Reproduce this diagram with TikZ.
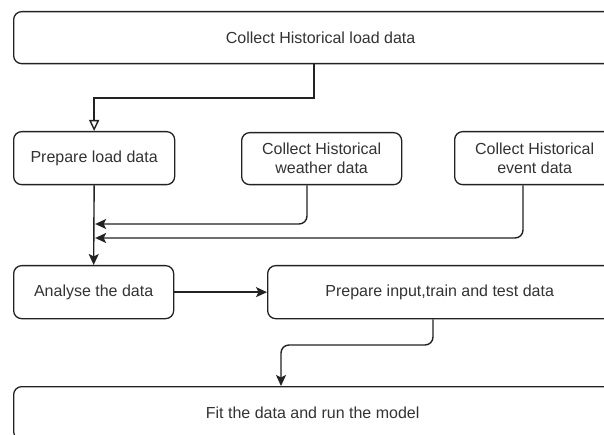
\documentclass[tikz,border=0pt]{standalone}
\usepackage{fontspec}
\setmainfont{Liberation Sans}
\usetikzlibrary{arrows.meta,calc}
\definecolor{ln}{HTML}{222222}
\definecolor{tx}{HTML}{333333}
\begin{document}
\begin{tikzpicture}[x=1pt,y=-1pt,
  box/.style={draw=ln,line width=1.3pt,rounded corners=8pt,fill=white,
    anchor=north west,inner sep=0pt,align=center,text=tx,
    font=\fontsize{16}{19}\selectfont},
  conn/.style={draw=ln,line width=1.4pt,rounded corners=8pt},
  solidarrow/.style={conn,-{Stealth[length=11pt,width=10pt,inset=2.5pt]}},
  openarrow/.style={conn,sharp corners,-{Triangle[open,length=11pt,width=10pt,fill=white]}}]
\useasboundingbox (0,0) rectangle (604,435);
\clip (0,0) rectangle (604,435);
\fill[white] (0,0) rectangle (604,435);
\node[box,minimum width=614pt,minimum height=52pt] (load) at (13,11) {Collect Historical load data};
\node[box,minimum width=161pt,minimum height=53pt] (prep) at (13,131) {Prepare load data};
\node[box,minimum width=160pt,minimum height=52pt] (weather) at (241,132) {Collect Historical\\weather data};
\node[box,minimum width=160pt,minimum height=53pt] (event) at (454,131) {Collect Historical\\event data};
\node[box,minimum width=160pt,minimum height=53pt] (analyse) at (13,265) {Analyse the data};
\node[box,minimum width=344pt,minimum height=53pt] (input) at (267,265) {Prepare input,train and test data};
\node[box,minimum width=598pt,minimum height=53pt] (fit) at (13,386) {Fit the data and run the model};
\coordinate (x1) at (314,0);
\coordinate (x2) at (307,0);
\coordinate (x3) at (523,0);
\coordinate (x4) at (433,0);
\coordinate (x5) at (281,0);
\coordinate (y1) at (0,98);
\coordinate (y2) at (0,224);
\coordinate (y3) at (0,238);
\coordinate (y4) at (0,345);
\draw[openarrow] (load.south -| x1) -- (x1 |- y1) -- (prep.north |- y1) -- (prep.north);
\draw[solidarrow] (prep.south) -- (analyse.north);
\draw[solidarrow] (weather.south -| x2) -- (x2 |- y2) -- ($(prep.south |- y2)+(1,0)$);
\draw[solidarrow] (event.south -| x3) -- (x3 |- y3) -- ($(prep.south |- y3)+(1,0)$);
\draw[solidarrow] (analyse.east) -- (input.west);
\draw[solidarrow] (input.south -| x4) -- (x4 |- y4) -- (x5 |- y4) -- (fit.north -| x5);
\end{tikzpicture}
\end{document}
